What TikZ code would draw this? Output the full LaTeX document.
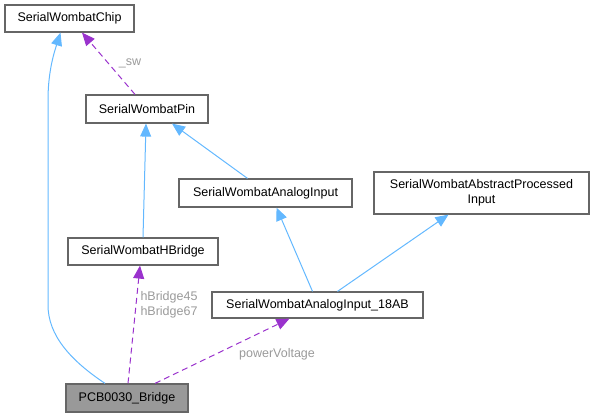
\documentclass[tikz,border=0pt]{standalone}
\usepackage{fontspec}
\setmainfont{Liberation Sans}
\usetikzlibrary{arrows.meta}
\definecolor{inhblue}{HTML}{63B8FF}
\definecolor{usepurple}{HTML}{9A32CD}
\definecolor{boxgray}{HTML}{666666}
\definecolor{lblgray}{HTML}{9A9A9A}
\definecolor{curgray}{HTML}{999999}
\tikzset{
  cls/.style={draw=boxgray, line width=1.2pt, fill=white, inner sep=0pt,
    align=center, font=\fontsize{12.5}{15}\selectfont},
  inh/.style={draw=inhblue, line width=1pt,
    -{Triangle[length=13pt,width=11pt,fill=inhblue]}},
  use/.style={draw=usepurple, line width=1pt, dash pattern=on 6pt off 4pt,
    -{Triangle[length=13pt,width=11pt,fill=usepurple]}},
  lbl/.style={text=lblgray, inner sep=0pt, align=left,
    font=\fontsize{12.5}{15.5}\selectfont}
}

\begin{document}
\begin{tikzpicture}[x=1pt,y=-1pt]
\useasboundingbox (0,0) rectangle (594,417);
\node[cls,minimum width=129pt,minimum height=27pt] (chip) at (69.5,18.5) {SerialWombatChip};
\node[cls,minimum width=122pt,minimum height=28pt] (pin) at (147,109) {SerialWombatPin};
\node[cls,minimum width=173pt,minimum height=28pt] (ain) at (265.5,193) {SerialWombatAnalogInput};
\node[cls,minimum width=215pt,minimum height=42pt] (abs) at (481.5,193) {SerialWombatAbstractProcessed\\Input};
\node[cls,minimum width=150pt,minimum height=27pt] (hbr) at (143,251.5) {SerialWombatHBridge};
\node[cls,minimum width=211pt,minimum height=26pt] (ain18) at (317.5,305) {SerialWombatAnalogInput\_18AB};
\node[cls,fill=curgray,minimum width=122pt,minimum height=28pt] (pcb) at (127,398) {PCB0030\_Bridge};
% labels
\node[lbl] (lsw) at (130,63) {\_sw};
\node[lbl] (lhbr) at (169,305) {hBridge45\\hBridge67};
\node[lbl] (lpv) at (277,354) {powerVoltage};
% inheritance
\draw[inh] (hbr.north) -- ([xshift=-1pt]pin.south);
\draw[inh] ([xshift=-18pt]ain.north) -- ([xshift=25pt]pin.south);
\draw[inh] ([xshift=-5pt]ain18.north) -- ([xshift=11pt]ain.south);
\draw[inh] ([xshift=20pt]ain18.north) -- ([xshift=-33pt]abs.south);
\draw[inh] ([xshift=-22pt]pcb.north) .. controls (70,360) and (48,335) .. (48,305)
  -- (48,100) .. controls (48,70) and (55,50) .. ([xshift=-9pt]chip.south);
% usage
\draw[use] ([xshift=-12pt]pin.north) -- ([xshift=12.5pt]chip.south);
\draw[use] ([xshift=1pt]pcb.north) -- ([xshift=-3pt]hbr.south);
\draw[use] ([xshift=28pt]pcb.north) -- ([xshift=-28pt]ain18.south);
\end{tikzpicture}
\end{document}
